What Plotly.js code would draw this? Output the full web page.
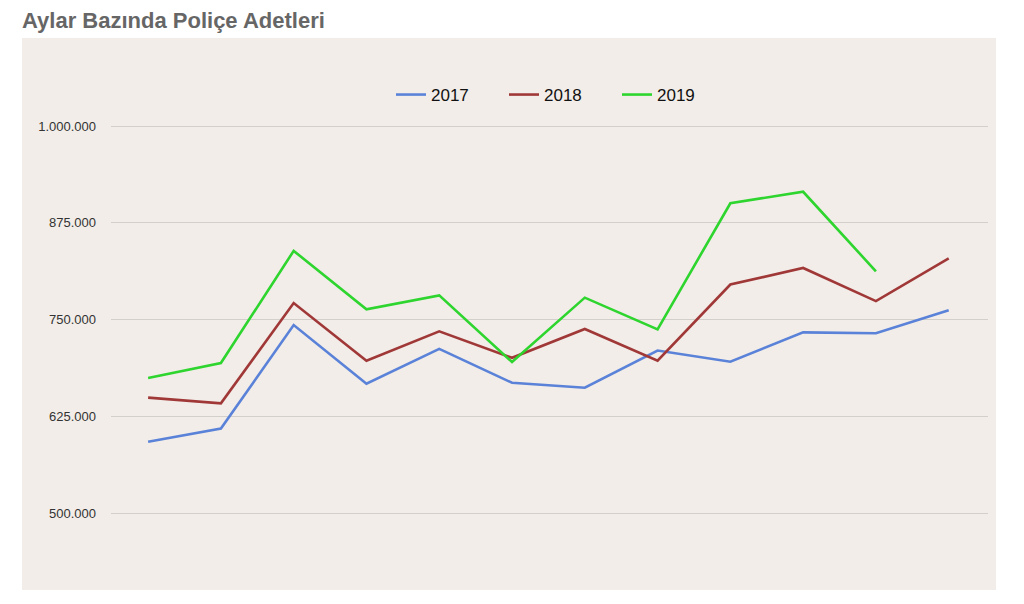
<!DOCTYPE html>
<html>
<head>
<meta charset="utf-8">
<script src="https://cdn.plot.ly/plotly-3.0.1.min.js"></script>
<style>html,body{margin:0;padding:0;background:#fff;}#chart{width:1024px;height:604px;}</style>
</head>
<body>
<div id="chart"></div>
<script>
const months = ["Ocak","Şubat","Mart","Nisan","Mayıs","Haziran","Temmuz","Ağustos","Eylül","Ekim","Kasım","Aralık"];
const seriesNames = ["2017","2018","2019"];
const values2017 = [592400, 609400, 743000, 667200, 712300, 668500, 662100, 710100, 695700, 733600, 732400, 762100];
const values2018 = [649300, 642000, 771500, 697000, 734900, 700800, 737900, 697000, 795400, 816700, 774000, 829000];
const values2019 = [674800, 694000, 838800, 763400, 781300, 695300, 778400, 737500, 900300, 915100, 812400];
const tickValues = [500000, 625000, 750000, 875000, 1000000];
const colors = ["#5a82d8", "#a03838", "#2ed52e"];

const allValues = [values2017, values2018, values2019];
const traces = allValues.map((vals, i) => ({
  type: "scatter",
  mode: "lines",
  name: seriesNames[i],
  x: months.slice(0, vals.length),
  y: vals,
  line: {color: colors[i], width: 2.6},
  hoverinfo: "x+y+name"
}));

const layout = {
  width: 1024,
  height: 604,
  paper_bgcolor: "#ffffff",
  plot_bgcolor: "rgba(0,0,0,0)",
  separators: ",.",
  margin: {l: 111, r: 36, t: 100, b: 44, pad: 0},
  font: {family: "Liberation Sans, Arial, sans-serif", color: "#333"},
  title: {
    text: "<b>Aylar Bazında Poliçe Adetleri</b>",
    font: {family: "Liberation Sans, Arial, sans-serif", size: 22, color: "#666666"},
    xref: "container", yref: "container",
    x: 22 / 1024, xanchor: "left",
    y: 1 - 20 / 604, yanchor: "middle"
  },
  shapes: [{
    type: "rect", layer: "below",
    xref: "paper", yref: "paper",
    x0: (22 - 111) / 877, x1: (996 - 111) / 877,
    y0: (560 - 590) / 460, y1: (560 - 38) / 460,
    fillcolor: "#f2ede8", line: {width: 0}
  }],
  xaxis: {
    type: "category",
    range: [-0.51, 11.54],
    showgrid: false, zeroline: false, showline: false,
    showticklabels: false, ticks: ""
  },
  yaxis: {
    range: [439700, 1033570],
    tickvals: tickValues,
    tickformat: ",d",
    showgrid: true, gridcolor: "#d3cfca", gridwidth: 1,
    zeroline: false, showline: false, ticks: "",
    ticklabelstandoff: 14,
    tickfont: {family: "Liberation Sans, Arial, sans-serif", size: 13, color: "#333"}
  },
  legend: {
    orientation: "h",
    x: 0.5 + 11 / 877, xanchor: "center",
    y: (560 - 95) / 460, yanchor: "middle",
    font: {family: "Liberation Sans, Arial, sans-serif", size: 17, color: "#111"},
    bgcolor: "rgba(0,0,0,0)",
    itemwidth: 30,
    entrywidth: 68,
    entrywidthmode: "pixels"
  },
  showlegend: true
};

Plotly.newPlot("chart", traces, layout, {displayModeBar: false, staticPlot: false});
</script>
</body>
</html>
